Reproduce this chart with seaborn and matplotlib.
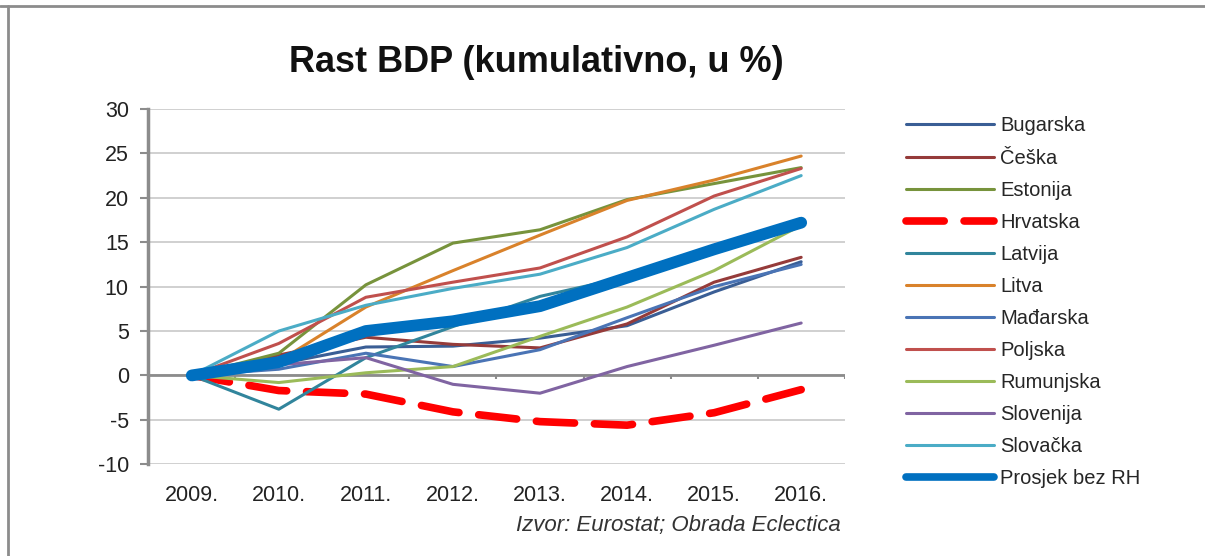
import numpy as np
import pandas as pd
import matplotlib
matplotlib.use('Agg')
import matplotlib.pyplot as plt
from matplotlib.lines import Line2D
import seaborn as sns

# podaci (kumulativni rast BDP-a, u %)
godine = ['2009.', '2010.', '2011.', '2012.', '2013.', '2014.', '2015.', '2016.']
bugarska = [0, 1.3, 3.2, 3.3, 4.2, 5.6, 9.4, 12.8]
ceska = [0, 2.3, 4.3, 3.5, 3.1, 5.8, 10.5, 13.3]
estonija = [0, 2.5, 10.2, 14.9, 16.4, 19.8, 21.6, 23.4]
hrvatska = [0, -1.7, -2.1, -4.1, -5.2, -5.6, -4.2, -1.6]
latvija = [0, -3.8, 2.0, 5.5, 8.9, 11.1, 14.3, 17.0]
litva = [0, 1.6, 7.7, 11.8, 15.8, 19.7, 22.0, 24.7]
madarska = [0, 0.7, 2.5, 1.0, 2.9, 6.5, 10.0, 12.5]
poljska = [0, 3.6, 8.8, 10.5, 12.1, 15.6, 20.2, 23.3]
rumunjska = [0, -0.8, 0.3, 1.0, 4.4, 7.7, 11.8, 16.9]
slovenija = [0, 1.2, 2.0, -1.0, -2.0, 1.0, 3.4, 5.9]
slovacka = [0, 5.0, 7.9, 9.8, 11.4, 14.4, 18.7, 22.5]
prosjek = [0, 1.5, 5.0, 6.1, 7.8, 11.0, 14.2, 17.2]

zemlje = ['Bugarska', 'Češka', 'Estonija', 'Hrvatska', 'Latvija', 'Litva',
          'Mađarska', 'Poljska', 'Rumunjska', 'Slovenija', 'Slovačka', 'Prosjek bez RH']
serije = [bugarska, ceska, estonija, hrvatska, latvija, litva,
          madarska, poljska, rumunjska, slovenija, slovacka, prosjek]

boje = ['#3A5E95', '#953B3A', '#77933C', '#FF0000', '#31859C', '#D9822B',
        '#4A74B5', '#C0504D', '#9BBB59', '#8064A2', '#4BACC6', '#0070C0']
paleta = dict(zip(zemlje, boje))
debljine = {z: 2.2 for z in zemlje}
debljine['Hrvatska'] = 5.5
debljine['Prosjek bez RH'] = 8.5
crte = {z: '' for z in zemlje}
crte['Hrvatska'] = (5, 2.6)

df = pd.DataFrame({
    'godina': godine * len(zemlje),
    'rast': np.concatenate(serije),
    'zemlja': np.repeat(zemlje, len(godine)),
})

sns.set_theme(style='white')
plt.rcParams['font.family'] = ['Liberation Sans', 'DejaVu Sans']
plt.rcParams['axes.unicode_minus'] = False

fig = plt.figure(figsize=(12.05, 5.56), dpi=100)
ax = fig.add_axes([0.123, 0.165, 0.578, 0.639])

sns.lineplot(data=df, x='godina', y='rast', hue='zemlja', style='zemlja', size='zemlja',
             palette=paleta, sizes=debljine, dashes=crte, hue_order=zemlje,
             style_order=zemlje, size_order=zemlje, legend=False, ax=ax)
for ln in ax.get_lines():
    ln.set_solid_capstyle('round')
    ln.set_dash_capstyle('round')
    ln.set_solid_joinstyle('round')

ax.set_xlim(-0.5, len(godine) - 0.5)
ax.set_ylim(-10, 30)
ax.set_yticks(np.arange(-10, 31, 5))
ax.yaxis.grid(True, color='#C8C8C8', linewidth=1.2)
ax.set_axisbelow(True)
ax.axhline(0, color='#8C8C8C', linewidth=2, zorder=1)
granice = np.arange(len(godine) + 1) - 0.5
ax.vlines(granice, -0.45, 0, color='#8C8C8C', linewidth=1.5, zorder=1)
for s in ['top', 'right', 'bottom']:
    ax.spines[s].set_visible(False)
ax.spines['left'].set_color('#8C8C8C')
ax.spines['left'].set_linewidth(2.5)
ax.tick_params(axis='y', left=True, length=6, width=1.5, color='#8C8C8C',
               labelsize=15.5, pad=8, labelcolor='#222222')
ax.tick_params(axis='x', bottom=False, labelsize=15.5, pad=9, labelcolor='#222222')
ax.set_xlabel('')
ax.set_ylabel('')

fig.text(0.445, 0.888, 'Rast BDP (kumulativno, u %)', ha='center', va='center',
         fontsize=26, fontweight='bold', color='#111111')
fig.text(0.698, 0.055, 'Izvor: Eurostat; Obrada Eclectica', ha='right', va='center',
         fontsize=16, style='italic', color='#333333')

rucke = [Line2D([], [], color=paleta[z], linewidth=min(debljine[z], 5.5),
                linestyle='--' if crte[z] else '-',
                dash_capstyle='round', solid_capstyle='round') for z in zemlje]
rucke[3].set_dashes((5, 2.6))
fig.legend(rucke, zemlje, loc='upper left', bbox_to_anchor=(0.745, 0.805),
           frameon=False, fontsize=14.5, handlelength=4.4, handletextpad=0.3,
           labelspacing=0.65, borderaxespad=0)

# okvir slike (gore i lijevo)
fig.add_artist(Line2D([0.0, 1.0], [0.99, 0.99], transform=fig.transFigure,
                      color='#8C8C8C', linewidth=2))
fig.add_artist(Line2D([0.007, 0.007], [0.0, 0.99], transform=fig.transFigure,
                      color='#8C8C8C', linewidth=2))

fig.savefig('out.png', dpi=100, facecolor='white')
